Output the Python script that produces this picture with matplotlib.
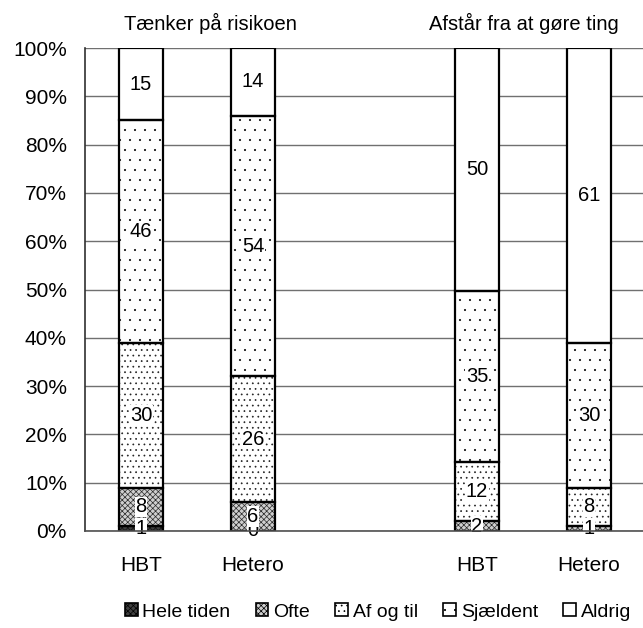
import matplotlib
matplotlib.use("Agg")
import warnings
warnings.filterwarnings("ignore")
import matplotlib.pyplot as plt
from matplotlib import hatch as mhatch
from matplotlib.patches import Patch
import numpy as np

plt.rcParams['font.family'] = ['Liberation Sans', 'DejaVu Sans']
plt.rcParams['hatch.linewidth'] = 0.5


class SparseDots(mhatch.Circles):
    size = 0.07
    filled = True

    def __init__(self, hatch, density):
        self.num_rows = hatch.count('d') * 10
        super().__init__(hatch, density)


mhatch._hatch_types.append(SparseDots)

groups = ["Tænker på risikoen", "Afstår fra at gøre ting"]
bar_labels = ["HBT", "Hetero", "HBT", "Hetero"]
series = ["Hele tiden", "Ofte", "Af og til", "Sjældent", "Aldrig"]
hele_tiden = [1, 0, np.nan, np.nan]
ofte = [8, 6, 2, 1]
af_og_til = [30, 26, 12.3, 8]
sjaeldent = [46, 54, 35.3, 30]
aldrig = [15, 14, 50.4, 61]
yticks = [0, 10, 20, 30, 40, 50, 60, 70, 80, 90, 100]

values = [hele_tiden, ofte, af_og_til, sjaeldent, aldrig]
positions = [0, 1, 3, 4]

fig = plt.figure(figsize=(6.43, 6.28), dpi=100)
ax = fig.add_axes([85/643, 1-531/628, (643-85)/643, (531-48)/628])

styles = [
    dict(facecolor="#404040", hatch="xxxxxx", hcolor="#111111"),
    dict(facecolor="#cfcfcf", hatch="xxxxxx", hcolor="#2a2a2a"),
    dict(facecolor="white", hatch="...", hcolor="#222222"),
    dict(facecolor="white", hatch="d", hcolor="#111111"),
    dict(facecolor="white", hatch="", hcolor="black"),
]

width = 0.39
bottom = np.zeros(4)
for vals, st in zip(values, styles):
    v = np.nan_to_num(np.array(vals, dtype=float))
    ax.bar(positions, v, width, bottom=bottom, facecolor=st["facecolor"],
           edgecolor=st["hcolor"], hatch=st["hatch"], linewidth=0, zorder=2)
    ax.bar(positions, v, width, bottom=bottom, facecolor="none",
           edgecolor="black", linewidth=1.6, zorder=3)
    for p, raw, b, val in zip(positions, vals, bottom, v):
        if not np.isnan(raw):
            ax.text(p, b + val/2, f"{int(round(raw))}", ha="center", va="center",
                    fontsize=14.5, zorder=4,
                    bbox=dict(boxstyle="square,pad=0.03", facecolor="white",
                              edgecolor="none"))
    bottom += v

ax.set_xlim(-0.5, -0.5 + (643-85)/112)
ax.set_ylim(0, 100)
ax.set_yticks(yticks)
ax.set_yticklabels([f"{t}%" for t in yticks], fontsize=15)
ax.set_xticks(positions)
ax.set_xticklabels(bar_labels, fontsize=15)
ax.tick_params(axis="y", length=0, pad=13)
ax.tick_params(axis="x", length=0, pad=18)
ax.yaxis.grid(True, color="#707070", linewidth=1.0, zorder=0)
ax.set_axisbelow(True)
for s in ["top", "right"]:
    ax.spines[s].set_visible(False)
ax.spines["left"].set_color("#303030")
ax.spines["left"].set_linewidth(1.2)
ax.spines["bottom"].set_color("#505050")
ax.spines["bottom"].set_linewidth(1.2)
ax.spines["bottom"].set_zorder(5)

ax.text(0.62, 105, groups[0], ha="center", va="center", fontsize=14.5, clip_on=False)
ax.text(3.42, 105, groups[1], ha="center", va="center", fontsize=14.5, clip_on=False)

handles = [Patch(facecolor=st["facecolor"], edgecolor="black", hatch=st["hatch"],
                 linewidth=1.2) for st in styles]
fig.legend(handles, series, loc="center", bbox_to_anchor=(378/643, 1-612/628),
           ncol=5, frameon=False, fontsize=14, handlelength=0.65, handleheight=0.65,
           handletextpad=0.25, columnspacing=1.3)

fig.savefig("out.png", dpi=100)
